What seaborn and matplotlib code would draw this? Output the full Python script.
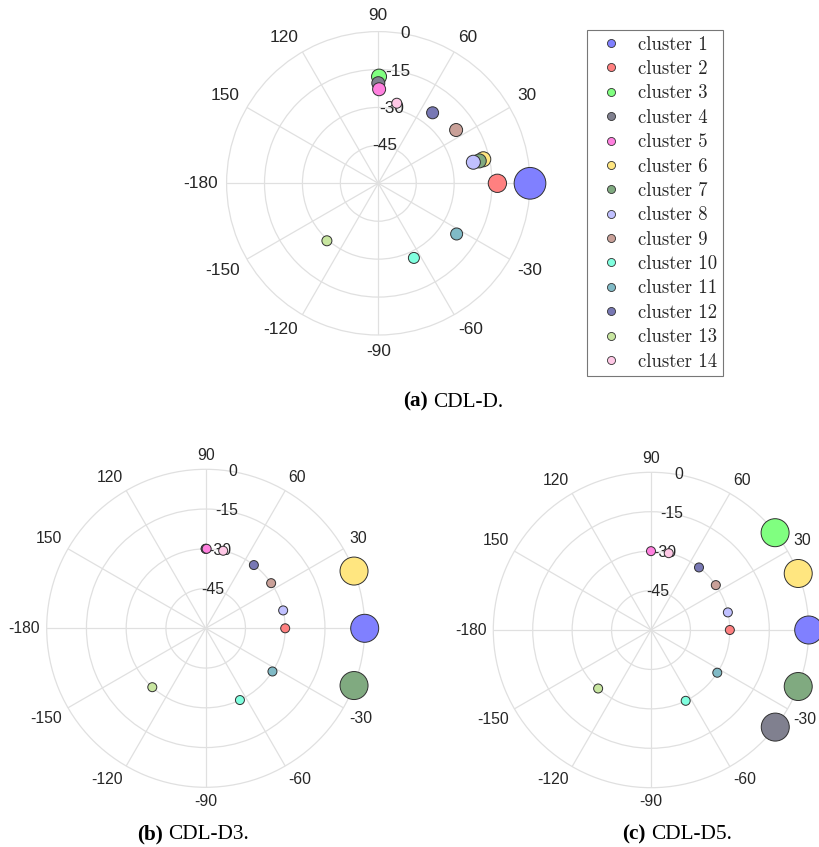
import numpy as np
import pandas as pd
import matplotlib
matplotlib.use("Agg")
import matplotlib.pyplot as plt
import seaborn as sns
from matplotlib.lines import Line2D

# ---------------- data ----------------
clusters = [f"cluster {i}" for i in range(1, 15)]
colors = ["#8080ff", "#ff8080", "#80ff80", "#80808f", "#ff80df", "#ffe680",
          "#80aa80", "#c0c0ff", "#c9a098", "#80ffdf", "#80bac6", "#7878b4",
          "#c8e6a0", "#ffc8e6"]

theta_ticks = [0, 30, 60, 90, 120, 150, 180, 210, 240, 270, 300, 330]
theta_tick_labels = ["", "30", "60", "90", "120", "150", "-180", "-150",
                     "-120", "-90", "-60", "-30"]
r_ticks = [-45, -30, -15, 0]
r_tick_labels = ["-45", "-30", "-15", "0"]

# (a) CDL-D : azimuth (deg), elevation (deg), marker diameter (px)
az_a = [0, 0, 89.6, 90, 89.5, 12.9, 12.5, 12.5, 34.4, -64.5, -32.9, 52.4, -131.8, 77]
el_a = [0, -12.9, -17.8, -20.4, -22.8, -17.4, -19.1, -21.5, -22.7, -27.3, -23.1, -24.8, -29.5, -27.5]
size_a = [31.7, 18.3, 15, 13, 13, 15, 14, 14, 13, 11, 12, 12, 10, 10]

# (b) CDL-D3
az_b = [0, 0, 90, 90, 89.3, 21.1, -21.1, 13.0, 34.6, -64.5, -32.9, 52.7, -132.2, 77.3]
el_b = [0, -30, -30, -30, -30, 0, 0, -30, -30, -30, -30, -30, -30, -30]
size_b = [28, 9, 9, 9, 9, 28, 28, 9, 9, 9, 9, 9, 9, 9]

# (c) CDL-D5
az_c = [0, 0, 38.1, -38.0, 90, 21.0, -21.0, 12.9, 34.7, -63.9, -32.8, 52.5, -132.1, 77.0]
el_c = [0, -30, 0, 0, -30, 0, 0, -30, -30, -30, -30, -30, -30, -30]
size_c = [28, 9, 28, 28, 9, 28, 28, 9, 9, 9, 9, 9, 9, 9]

# ---------------- figure ----------------
sns.set_style("white")
plt.rcParams["font.family"] = ["Liberation Sans", "DejaVu Sans"]

W, H = 819, 847
fig = plt.figure(figsize=(W / 100, H / 100), dpi=100)

GRID = "#e0e0e0"
TXT = "#262626"


def px_axes(cx, cy, R):
    return [(cx - R) / W, 1 - (cy + R) / H, 2 * R / W, 2 * R / H]


def polar_panel(rect, az, el, size, fs, gap):
    ax = fig.add_axes(rect, projection="polar")
    df = pd.DataFrame({"theta": np.deg2rad(az), "elev": el, "cluster": clusters,
                       "s": [(d * 0.72) ** 2 for d in size]})
    sns.scatterplot(data=df, x="theta", y="elev", hue="cluster",
                    palette=dict(zip(clusters, colors)), size="cluster",
                    sizes=dict(zip(clusters, df["s"])), legend=False, ax=ax,
                    edgecolor="#303030", linewidth=0.7, alpha=1.0,
                    clip_on=False, zorder=5)
    ax.set_xlabel("")
    ax.set_ylabel("")
    ax.set_ylim(-60, 0)
    ax.set_xticks(np.deg2rad(theta_ticks))
    ax.set_xticklabels([])
    ax.set_yticks(r_ticks[:-1])
    ax.set_yticklabels([])
    ax.grid(True, color=GRID, lw=0.9)
    ax.spines["polar"].set_color(GRID)
    ax.spines["polar"].set_linewidth(0.9)
    ax.set_facecolor("white")
    for t, lab in zip(theta_ticks, theta_tick_labels):
        if not lab:
            continue
        c, s = np.cos(np.deg2rad(t)), np.sin(np.deg2rad(t))
        ha = "left" if c > 0.1 else ("right" if c < -0.1 else "center")
        va = "bottom" if s > 0.1 else ("top" if s < -0.1 else "center")
        ax.annotate(lab, xy=(np.deg2rad(t), 0), xytext=(gap * c, gap * s),
                    textcoords="offset pixels", ha=ha, va=va, fontsize=fs,
                    color=TXT, annotation_clip=False)
    for r, lab in zip(r_ticks, r_tick_labels):
        ax.text(np.deg2rad(80), r, lab, ha="center", va="center",
                fontsize=fs, color=TXT, zorder=3)
    return ax


ax_a = polar_panel(px_axes(378.3, 183.3, 151.7), az_a, el_a, size_a, 12.4, 8.5)
ax_b = polar_panel(px_axes(205.7, 628.3, 159.0), az_b, el_b, size_b, 11.3, 6.5)
ax_c = polar_panel(px_axes(651.0, 630.0, 157.7), az_c, el_c, size_c, 11.3, 6.5)

# legend
handles = [Line2D([], [], marker="o", ls="", markerfacecolor=c,
                  markeredgecolor="#303030", markeredgewidth=0.6, markersize=5.8)
           for c in colors]
leg = fig.legend(handles, clusters, loc="upper left",
                 bbox_to_anchor=(587 / W, 1 - 30 / H), borderaxespad=0,
                 frameon=True, fancybox=False, edgecolor="#555555",
                 prop={"family": "cmr10", "size": 13.5},
                 labelspacing=0.345, borderpad=0.3, handlelength=2.0,
                 handletextpad=0.42)
leg.get_frame().set_linewidth(0.8)


# captions
def caption(x_bold, x_reg, y_base, bold, reg, fs=15.3):
    fig.text(x_bold / W, 1 - y_base / H, bold, ha="left", va="baseline",
             fontsize=fs, fontweight="bold", family="Liberation Serif", color="black")
    fig.text(x_reg / W, 1 - y_base / H, reg, ha="left", va="baseline",
             fontsize=fs, family="Liberation Serif", color="black")


caption(403, 432.7, 406.7, "(a)", "CDL-D.")
caption(136.7, 168.3, 839, "(b)", "CDL-D3.")
caption(621.7, 650.7, 839, "(c)", "CDL-D5.")

fig.savefig("out.png", dpi=100, facecolor="white")
